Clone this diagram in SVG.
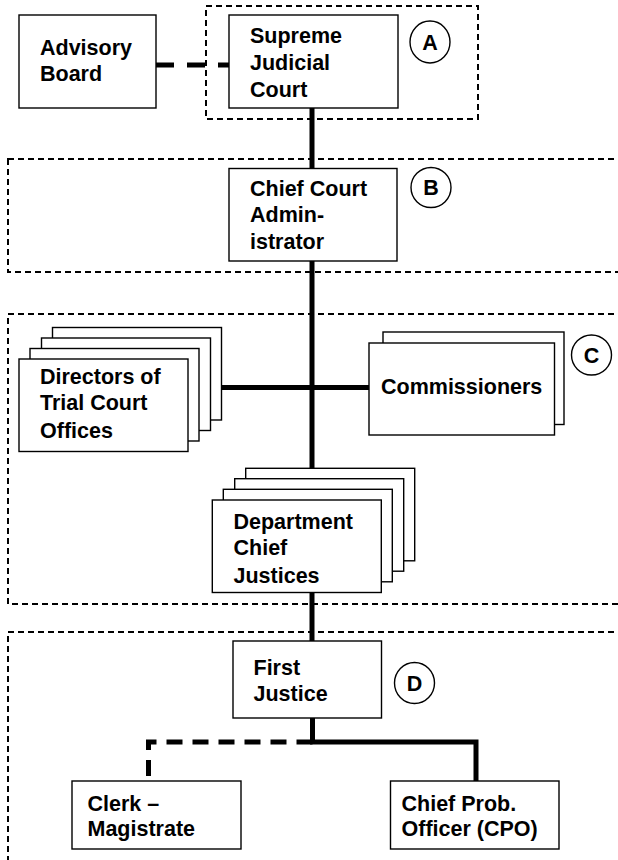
<svg xmlns="http://www.w3.org/2000/svg" width="618" height="860" viewBox="0 0 618 860">
<style>
.box{fill:#fff;stroke:#000;stroke-width:1.4}
.grp{fill:none;stroke:#000;stroke-width:2;stroke-dasharray:6,4}
.t{font-family:"Liberation Sans",Arial,sans-serif;font-weight:bold;font-size:21.5px;fill:#000}
.c{fill:#fff;stroke:#000;stroke-width:1.4}
.solid{fill:none;stroke:#000;stroke-width:5}
.dash{fill:none;stroke:#000;stroke-width:5}
</style>
<rect width="618" height="860" fill="#fff"/>
<g id="groups">
<rect class="grp" x="206" y="6" width="272" height="113"/>
<rect class="grp" x="8" y="159" width="640" height="113"/>
<rect class="grp" x="8" y="314" width="640" height="290"/>
<rect class="grp" x="8" y="632" width="640" height="260"/>
</g>
<g id="connectors">
<path class="dash" d="M156 65H229" stroke-dasharray="18,13"/>
<path class="solid" d="M312 108V168M312 261V468M221 387.5H369M312 592V641M312.5 718V742H476V781"/>
<path class="dash" d="M312.5 742H148.5V781" stroke-dasharray="16,10"/>
</g>
<g id="advisory">
<rect class="box" x="19" y="15" width="137" height="93"/>
<text class="t" x="40" y="55">Advisory</text>
<text class="t" x="40" y="81">Board</text>
</g>
<g id="supreme">
<rect class="box" x="229" y="15" width="169" height="93"/>
<text class="t" x="250" y="43">Supreme</text>
<text class="t" x="250" y="70">Judicial</text>
<text class="t" x="250" y="97">Court</text>
</g>
<g id="label-a">
<ellipse class="c" cx="430" cy="42" rx="20" ry="21"/>
<text class="t" x="430" y="49.5" text-anchor="middle">A</text>
</g>
<g id="chief-admin">
<rect class="box" x="229" y="168.5" width="168" height="92.5"/>
<text class="t" x="250" y="196">Chief Court</text>
<text class="t" x="250" y="222">Admin-</text>
<text class="t" x="250" y="248.5">istrator</text>
</g>
<g id="label-b">
<ellipse class="c" cx="431" cy="187.5" rx="20" ry="20"/>
<text class="t" x="431" y="195" text-anchor="middle">B</text>
</g>
<g id="directors">
<rect class="box" x="52.5" y="327.5" width="169" height="92.5"/>
<rect class="box" x="41.5" y="338" width="169" height="92.5"/>
<rect class="box" x="30" y="348.5" width="169" height="92.5"/>
<rect class="box" x="19" y="359" width="169" height="92.5"/>
<text class="t" x="40" y="383.5">Directors of</text>
<text class="t" x="40" y="410">Trial Court</text>
<text class="t" x="40" y="437.5">Offices</text>
</g>
<g id="commissioners">
<rect class="box" x="383" y="332" width="181" height="92.5"/>
<rect class="box" x="369" y="343" width="185.5" height="92"/>
<text class="t" x="381" y="393.5">Commissioners</text>
</g>
<g id="label-c">
<ellipse class="c" cx="591.5" cy="355" rx="20" ry="20"/>
<text class="t" x="591.5" y="362.5" text-anchor="middle">C</text>
</g>
<g id="dept">
<rect class="box" x="245.7" y="468.3" width="169" height="92.5"/>
<rect class="box" x="234.7" y="478.7" width="169" height="92.5"/>
<rect class="box" x="223.3" y="489.3" width="169" height="92.5"/>
<rect class="box" x="212.3" y="500" width="169" height="92.5"/>
<text class="t" x="233.5" y="528.5">Department</text>
<text class="t" x="233.5" y="555">Chief</text>
<text class="t" x="233.5" y="582.5">Justices</text>
</g>
<g id="first-justice">
<rect class="box" x="233" y="641" width="148.5" height="77"/>
<text class="t" x="253.5" y="675">First</text>
<text class="t" x="253.5" y="701">Justice</text>
</g>
<g id="label-d">
<ellipse class="c" cx="414.5" cy="683" rx="20" ry="20.5"/>
<text class="t" x="414.5" y="690.5" text-anchor="middle">D</text>
</g>
<g id="clerk">
<rect class="box" x="72" y="781" width="169" height="68"/>
<text class="t" x="87.5" y="811">Clerk –</text>
<text class="t" x="87.5" y="835.5">Magistrate</text>
</g>
<g id="cpo">
<rect class="box" x="390.5" y="781" width="168.5" height="68"/>
<text class="t" x="401.5" y="811">Chief Prob.</text>
<text class="t" x="401.5" y="835.5">Officer (CPO)</text>
</g>
</svg>
